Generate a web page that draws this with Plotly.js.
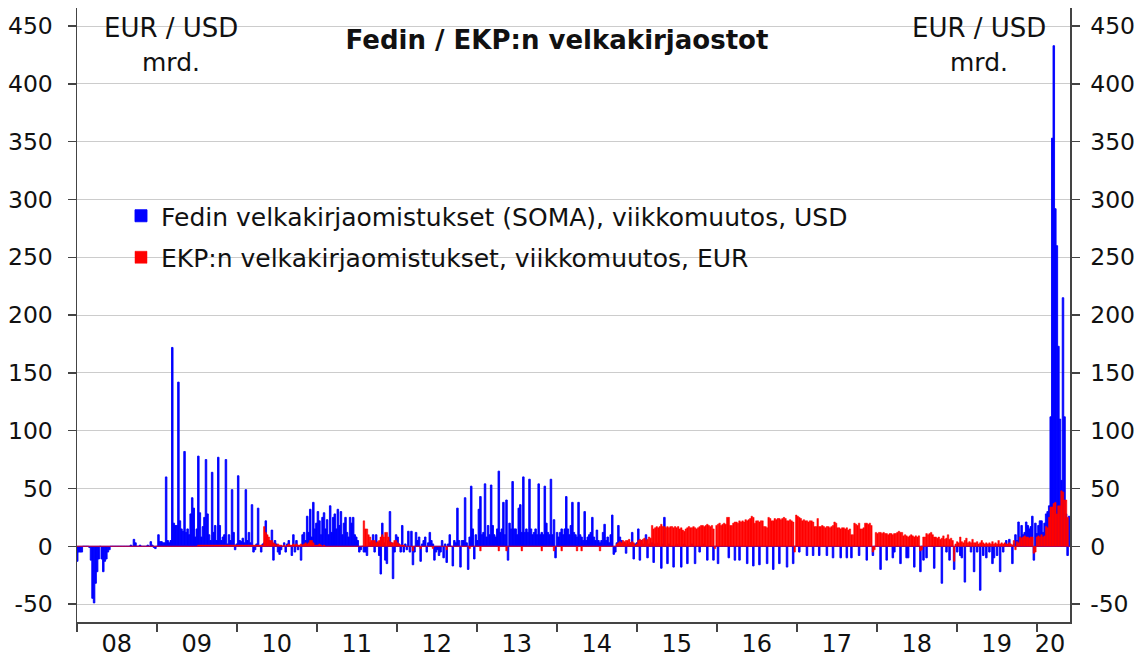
<!DOCTYPE html>
<html>
<head>
<meta charset="utf-8">
<script src="https://cdn.plot.ly/plotly-3.0.1.min.js"></script>
<style>html,body{margin:0;padding:0;background:#fff}#chart{width:1136px;height:665px}</style>
</head>
<body>
<div id="chart"></div>
<script>
// Weekly series, first week 2008-01-02, one value per week (mrd.)
const startDate = "2008-01-02";
const fedName = "Fedin velkakirjaomistukset (SOMA), viikkomuutos, USD";
const ecbName = "EKP:n velkakirjaomistukset, viikkomuutos, EUR";

const fedWeekly = [
 -13,-5,-5,-5,0,0,0,0,-1,-12,-45,-49,-32,-22,-11,0,-11,-22,-13,-11,-5,-3,0,0,0,0,
 0,0,0,0,0,0,0,0,0,1,0,6,3,0,0,1,0,0,0,0,1,0,4,1,-1,-2,
 0,10,4,4,3,3,60,5,3,5,172,20,18,18,142,22,15,13,82,12,15,10,28,42,33,8,
 15,78,29,8,17,25,75,28,10,5,64,12,18,5,77,18,5,8,10,75,2,10,5,49,12,-3,
 2,61,5,4,7,3,49,5,12,3,36,-5,-3,2,33,0,-5,2,3,22,5,5,3,14,-12,5,
 2,-5,-7,-3,0,3,-5,2,5,0,-8,10,-5,5,-3,0,-12,10,12,5,26,12,32,8,38,15,
 20,30,22,10,25,29,15,23,10,35,12,25,28,15,32,18,30,10,20,25,12,8,25,20,25,10,
 8,5,-5,-3,0,-5,-5,-8,0,3,2,10,-5,10,3,-8,-24,20,3,-12,-15,5,30,3,-28,-5,
 10,8,2,-5,18,-5,2,-3,13,-5,13,-16,-5,12,5,8,-13,2,5,8,-5,3,12,5,2,-12,
 -5,-3,-8,-5,5,-10,2,-14,2,10,0,-17,5,3,33,5,-18,5,5,42,3,-20,8,52,15,-11,
 10,5,32,43,10,12,54,8,18,10,53,18,10,8,15,65,12,15,38,10,40,-12,20,15,56,15,
 15,10,33,36,12,60,12,15,12,58,15,10,12,15,10,54,10,12,10,52,20,12,10,58,10,23,
 -10,12,8,12,15,10,15,43,15,10,18,38,12,10,8,38,10,8,5,30,5,8,10,12,25,8,
 5,14,5,3,5,12,19,5,8,3,10,27,-7,-5,3,18,8,5,2,3,-6,2,0,3,12,-11,
 2,3,15,-12,5,2,0,10,-10,2,0,3,-14,2,0,3,0,-19,2,25,0,-15,2,0,0,-18,
 0,2,0,0,-18,0,2,0,-15,0,0,2,0,-15,0,0,-5,0,0,2,0,-12,0,0,0,-12,
 0,0,-15,0,0,0,0,0,0,-10,0,0,0,-12,0,0,-12,0,0,0,0,-15,0,0,0,-17,
 0,0,0,-16,0,0,0,0,-15,0,0,0,-20,0,0,0,-15,0,0,0,0,-18,0,0,0,-15,
 0,0,0,-5,0,0,0,0,-8,0,0,0,-8,0,0,0,-8,0,0,0,0,-8,0,0,0,-10,
 0,0,0,0,-10,0,0,0,-10,0,0,-10,0,0,0,0,-8,0,0,0,0,-12,0,0,0,-8,
 0,0,0,0,-20,0,0,0,-12,0,0,0,-10,-5,0,0,0,-15,0,0,0,-10,-10,0,0,0,
 -18,0,0,0,-22,0,-12,0,-10,0,0,0,0,-19,0,0,0,0,-32,0,0,-5,0,-12,0,0,
 -20,0,-5,0,-8,-10,0,-31,0,0,0,-5,0,-22,0,-5,0,-38,0,-8,0,-10,0,-5,0,-15,
 -10,0,-8,0,-22,0,-5,0,5,0,6,0,-15,2,10,5,21,8,18,10,12,21,18,15,17,26,
 -12,20,11,18,22,22,12,20,28,30,35,112,353,433,292,260,173,110,57,215,112,28,-8,26
];

const ecbWeekly = [
 0,0,0,0,0,0,0,0,0,0,0,0,0,0,0,0,0,0,0,0,0,0,0,0,0,0,
 0,0,0,0,0,0,0,0,0,0,0,0,0,0,0,0,0,0,0,0,0,0,0,0,0,0,
 0,0,0,0,0,0,0,0,0,0,0,0,0,0,0,0,0,0,0,0,0,0,0,0,0,0,
 0,1,1,1,1,1,1,1,1,1,1,1,1,1,1,1,1,1,1,1,1,1,1,1,1,1,
 1,1,1,1,1,1,1,1,1,1,1,1,1,1,1,1,1,1,17,12,10,8,5,5,3,2,
 1,2,1,1,0,1,0,1,2,1,1,2,1,2,1,1,2,1,2,3,2,3,5,5,3,1,
 1,1,2,1,0,1,0,0,0,0,0,0,0,0,0,0,0,0,0,0,0,0,0,0,0,0,
 0,0,0,0,0,22,15,15,10,8,5,5,5,3,4,5,8,10,8,12,12,8,4,3,3,5,
 5,3,2,1,1,1,0,0,0,0,0,-4,0,0,0,0,-2,0,0,0,0,0,0,0,-2,0,
 0,0,0,0,0,0,0,-3,0,0,0,0,0,0,0,0,0,0,0,0,0,0,-2,0,0,0,
 0,0,0,-4,0,0,0,0,0,0,0,0,0,0,0,-4,0,0,0,0,-4,0,0,0,0,0,
 0,0,0,0,-4,0,0,0,0,0,0,0,0,0,0,0,0,-4,0,0,0,0,0,0,0,-4,
 0,0,0,0,-4,0,0,0,0,0,0,0,0,0,-4,0,0,-4,0,0,0,0,0,0,0,0,
 0,0,0,-4,0,0,0,0,0,0,0,0,0,0,2,3,4,3,5,4,5,5,6,3,4,3,
 1,2,5,6,5,6,7,5,6,8,7,18,15,16,17,16,17,19,17,17,16,17,16,17,17,16,
 17,16,17,15,16,14,13,15,16,17,16,16,17,16,15,16,17,18,18,17,18,19,18,17,18,15,
 -2,18,19,20,18,19,20,19,25,25,18,18,20,21,21,20,22,21,22,21,23,22,23,24,26,25,
 20,22,22,21,22,22,17,17,16,25,24,22,22,24,23,24,24,23,24,25,24,22,22,23,22,21,
 -5,27,26,25,24,22,23,22,22,21,22,22,21,17,17,24,17,17,18,17,16,17,17,16,17,18,
 21,20,16,16,15,16,16,15,16,14,15,10,10,20,19,18,20,15,15,16,20,20,19,20,18,-5,
 -3,12,11,12,12,11,12,11,11,10,11,11,10,11,11,12,13,12,12,9,10,9,8,9,10,9,
 8,9,8,9,-4,-3,8,8,11,10,11,12,10,8,8,7,8,6,7,9,6,7,10,6,7,5,
 -13,2,4,3,8,4,3,5,7,3,4,3,6,3,3,4,2,3,5,3,2,3,2,3,2,4,
 2,3,2,5,2,3,2,3,2,2,3,2,1,5,-3,4,3,8,7,8,9,8,8,7,8,8,
 -6,-5,8,9,8,10,8,9,17,16,25,34,34,37,38,28,35,35,48,47,40,40,25,0
];

const yearTickLabels = ["08","09","10","11","12","13","14","15","16","17","18","19","20"];
const yearLabelDates = ["2008-07-01","2009-07-01","2010-07-01","2011-07-01","2012-07-01","2013-07-01",
  "2014-07-01","2015-07-01","2016-07-01","2017-07-01","2018-07-01","2019-07-01","2020-03-01"];
const yearStarts = ["2008-01-01","2009-01-01","2010-01-01","2011-01-01","2012-01-01","2013-01-01",
  "2014-01-01","2015-01-01","2016-01-01","2017-01-01","2018-01-01","2019-01-01","2020-01-01"];
const yTicks = [-50,0,50,100,150,200,250,300,350,400,450];
const yTickText = ["-50","0","50","100","150","200","250","300","350","400","450"];

function weekDates(n){
  const t0 = Date.parse(startDate + "T00:00:00Z");
  const out = [];
  for(let i=0;i<n;i++){ out.push(new Date(t0 + i*7*86400000).toISOString().slice(0,10)); }
  return out;
}
const fedDates = weekDates(fedWeekly.length);
const ecbDates = weekDates(ecbWeekly.length);

const FONT = '"DejaVu Sans", "Noto Sans", sans-serif';
const yRange = [-65.5, 465.6];

const traces = [
  {type:"bar", x:fedDates, y:fedWeekly, name:fedName, legendgroup:"a",
   marker:{color:"#0000ff", line:{width:0.9, color:"#0000ff"}}, yaxis:"y", hoverinfo:"x+y"},
  {type:"bar", x:ecbDates, y:ecbWeekly, name:ecbName, legendgroup:"b",
   marker:{color:"#ff0000", line:{width:0.5, color:"#ff0000"}}, yaxis:"y2", hoverinfo:"x+y"}
];

const axisCommon = {
  range:yRange, autorange:false, tickmode:"array", tickvals:yTicks, ticktext:yTickText,
  ticks:"outside", ticklen:8, tickwidth:1.5, tickcolor:"#444",
  showline:true, linecolor:"#444", linewidth:1.5,
  tickfont:{family:FONT, size:23.5, color:"#111"}, fixedrange:true
};

const layout = {
  width:1136, height:665,
  margin:{l:77, r:66, t:8, b:43, pad:0},
  paper_bgcolor:"#fff", plot_bgcolor:"#fff",
  font:{family:FONT, color:"#111"},
  barmode:"overlay", bargap:0,
  showlegend:true,
  title:{text:"<b>Fedin / EKP:n velkakirjaostot</b>", font:{family:FONT, size:26, color:"#111"},
         xref:"container", yref:"container", x:557/1136, y:1-40/665, xanchor:"center", yanchor:"middle"},
  xaxis:{type:"date", range:["2008-01-01","2020-05-31"], autorange:false,
         tickmode:"array", tickvals:yearLabelDates, ticktext:yearTickLabels, ticks:"",
         tickfont:{family:FONT, size:24, color:"#111"},
         showgrid:false, zeroline:false, showline:true, linecolor:"#444", linewidth:1.5,
         minor:{tickmode:"array", tickvals:yearStarts, ticks:"outside", ticklen:8, tickwidth:1.5, tickcolor:"#444", showgrid:false},
         fixedrange:true},
  yaxis:Object.assign({}, axisCommon, {side:"left", showgrid:true, gridcolor:"#cccccc", gridwidth:1,
         zeroline:true, zerolinecolor:"#ff5050", zerolinewidth:1, ticklabelstandoff:10}),
  yaxis2:Object.assign({}, axisCommon, {side:"right", overlaying:"y", showgrid:false, zeroline:false, ticklabelstandoff:6}),
  legend:{x:(121-77)/993, y:(622-193)/614, xanchor:"left", yanchor:"top", bgcolor:"rgba(0,0,0,0)",
          font:{family:FONT, size:25, color:"#111"}, tracegroupgap:6, traceorder:"grouped"},
  annotations:[
    {text:"EUR / USD", x:(171-77)/993, y:(622-28)/614, xref:"paper", yref:"paper", showarrow:false, xanchor:"center", yanchor:"middle", font:{family:FONT, size:26, color:"#111"}},
    {text:"mrd.", x:(171-77)/993, y:(622-62)/614, xref:"paper", yref:"paper", showarrow:false, xanchor:"center", yanchor:"middle", font:{family:FONT, size:25, color:"#111"}},
    {text:"EUR / USD", x:(979-77)/993, y:(622-28)/614, xref:"paper", yref:"paper", showarrow:false, xanchor:"center", yanchor:"middle", font:{family:FONT, size:26, color:"#111"}},
    {text:"mrd.", x:(979-77)/993, y:(622-62)/614, xref:"paper", yref:"paper", showarrow:false, xanchor:"center", yanchor:"middle", font:{family:FONT, size:25, color:"#111"}}
  ]
};

Plotly.newPlot("chart", traces, layout, {displayModeBar:false, staticPlot:true});
</script>
</body>
</html>
